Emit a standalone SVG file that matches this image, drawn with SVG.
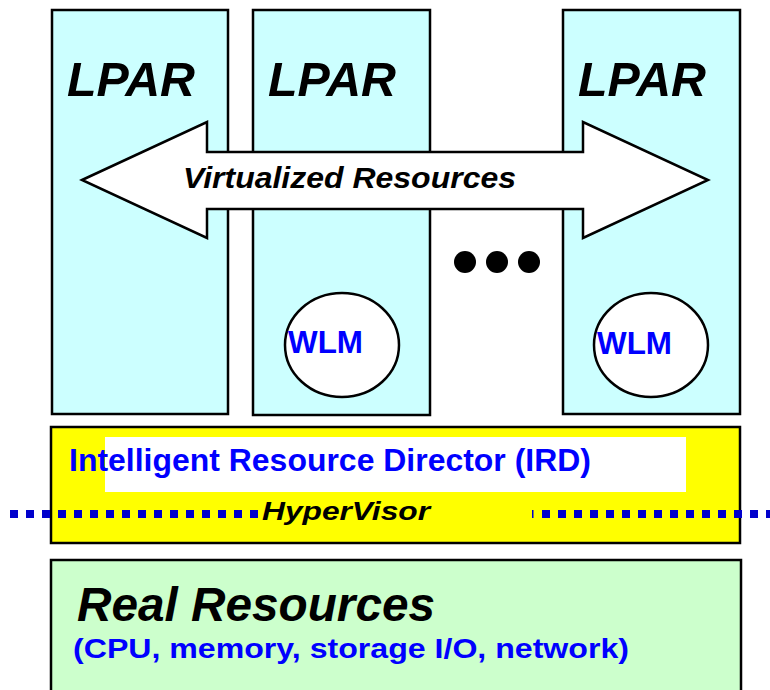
<svg xmlns="http://www.w3.org/2000/svg" width="770" height="690" viewBox="0 0 770 690">
<style>
.t{font-family:"Liberation Sans",Arial,sans-serif;font-weight:bold}
.i{font-style:italic}
.lpar{fill:#ccffff;stroke:#000;stroke-width:2.5}
.wlm{fill:#fff;stroke:#000;stroke-width:2.5}
.blue{fill:#0000ff}
.dots{stroke:#0000cc;stroke-width:8;stroke-dasharray:8 8;fill:none}
</style>
<rect width="770" height="690" fill="#fff"/>
<g id="lpar1">
<rect class="lpar" x="52" y="10" width="176" height="404"/>
<text class="t i" x="67" y="96" font-size="48" textLength="128" lengthAdjust="spacingAndGlyphs">LPAR</text>
</g>
<g id="lpar2">
<rect class="lpar" x="253" y="10" width="177" height="405"/>
<text class="t i" x="268" y="96" font-size="48" textLength="128" lengthAdjust="spacingAndGlyphs">LPAR</text>
<ellipse class="wlm" cx="342" cy="345" rx="57" ry="52"/>
<text class="t blue" x="288" y="353" font-size="31" textLength="75" lengthAdjust="spacingAndGlyphs">WLM</text>
</g>
<g id="lpar3">
<rect class="lpar" x="563" y="10" width="177" height="404"/>
<text class="t i" x="578" y="96" font-size="48" textLength="128" lengthAdjust="spacingAndGlyphs">LPAR</text>
<ellipse class="wlm" cx="651" cy="345" rx="57" ry="52"/>
<text class="t blue" x="597" y="354" font-size="31" textLength="75" lengthAdjust="spacingAndGlyphs">WLM</text>
</g>
<g id="virtualized">
<path d="M82,180 L207,122 L207,152 L583,152 L583,122 L708,180 L583,238 L583,209 L207,209 L207,238 Z" fill="#fff" stroke="#000" stroke-width="2.5" stroke-linejoin="miter"/>
<text class="t i" x="183" y="188" font-size="30" textLength="333" lengthAdjust="spacingAndGlyphs">Virtualized Resources</text>
</g>
<g id="ellipsis">
<circle cx="465" cy="262" r="11" fill="#000"/>
<circle cx="497" cy="262" r="11" fill="#000"/>
<circle cx="529" cy="262" r="11" fill="#000"/>
</g>
<g id="ird">
<rect x="51" y="427" width="689" height="116" fill="#ffff00" stroke="#000" stroke-width="2.5"/>
<rect x="105" y="437" width="581" height="55" fill="#fff"/>
<text class="t blue" x="69" y="471" font-size="31" textLength="522" lengthAdjust="spacingAndGlyphs">Intelligent Resource Director (IRD)</text>
</g>
<g id="connectors">
<line class="dots" x1="10" y1="514" x2="258" y2="514"/>
<rect x="532" y="510" width="1.5" height="8" fill="#0000cc"/>
<line class="dots" x1="542" y1="514" x2="770" y2="514"/>
</g>
<g id="hypervisor">
<text class="t i" x="262" y="520" font-size="26" textLength="168" lengthAdjust="spacingAndGlyphs">HyperVisor</text>
</g>
<g id="real">
<rect x="51" y="560" width="690" height="140" fill="#ccffcc" stroke="#000" stroke-width="2.5"/>
<text class="t i" x="77" y="621" font-size="48" textLength="358" lengthAdjust="spacingAndGlyphs">Real Resources</text>
<text class="t blue" x="73" y="658" font-size="27" textLength="556" lengthAdjust="spacingAndGlyphs">(CPU, memory, storage I/O, network)</text>
</g>
</svg>
